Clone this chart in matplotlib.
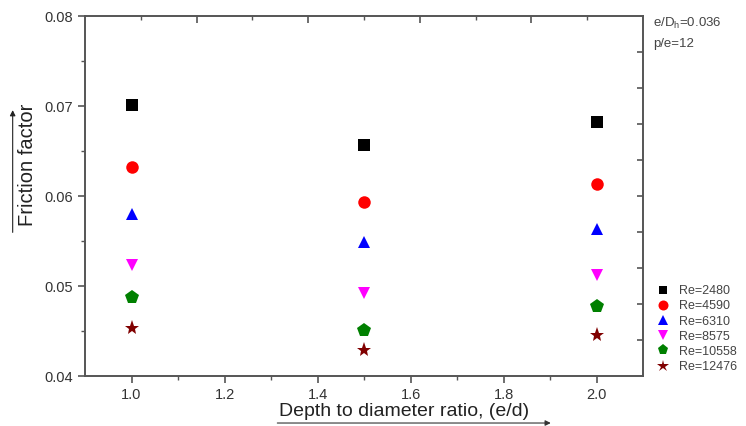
import matplotlib
matplotlib.use("Agg")
import matplotlib.pyplot as plt

plt.rcParams['font.family'] = ['Liberation Sans', 'DejaVu Sans']

# data
ratio = [1.0, 1.5, 2.0]
labels = ['Re=2480', 'Re=4590', 'Re=6310', 'Re=8575', 'Re=10558', 'Re=12476']
f_2480 = [0.0701, 0.0657, 0.0682]
f_4590 = [0.0632, 0.0594, 0.0613]
f_6310 = [0.0580, 0.0549, 0.0563]
f_8575 = [0.0524, 0.0492, 0.0512]
f_10558 = [0.0488, 0.0451, 0.0478]
f_12476 = [0.0453, 0.0429, 0.0446]

series = [f_2480, f_4590, f_6310, f_8575, f_10558, f_12476]
markers = ['s', 'o', '^', 'v', 'p', '*']
colors = ['black', 'red', 'blue', 'magenta', '#008000', '#800000']
sizes = [8, 9, 9, 9, 10, 11]

fig = plt.figure(figsize=(7.46, 4.26), dpi=100)
ax = fig.add_axes([0.114, 0.117, 0.748, 0.845])

for ys, m, c, s, lab in zip(series, markers, colors, sizes, labels):
    ax.plot(ratio, ys, linestyle='none', marker=m, color=c, ms=s,
            markeredgewidth=0, label=lab)

ax.set_xlim(0.9, 2.1)
ax.set_ylim(0.04, 0.08)
ax.set_xticks([1.0, 1.2, 1.4, 1.6, 1.8, 2.0])
ax.set_xticks([1.1, 1.3, 1.5, 1.7, 1.9], minor=True)
ax.set_yticks([0.04, 0.05, 0.06, 0.07, 0.08])
ax.set_yticks([0.045, 0.055, 0.065, 0.075], minor=True)
ax.set_xticklabels(['1.0', '1.2', '1.4', '1.6', '1.8', '2.0'])
ax.set_yticklabels(['0.04', '0.05', '0.06', '0.07', '0.08'])

spine_col = '#555555'
for sp in ax.spines.values():
    sp.set_color(spine_col)
    sp.set_linewidth(1.4)
ax.tick_params(which='major', direction='out', length=5, width=1.2,
               color=spine_col, labelsize=10.5, labelcolor='#333333')
ax.tick_params(which='minor', direction='out', length=3, width=1.0,
               color=spine_col)

# top and right ticks (inward, no labels)
top = ax.secondary_xaxis('top')
top.set_xticks([1.14, 1.38, 1.62, 1.86])
top.set_xticks([1.02, 1.26, 1.50, 1.74, 1.98], minor=True)
top.tick_params(which='major', direction='in', length=5, width=1.2,
                color=spine_col, labeltop=False)
top.tick_params(which='minor', direction='in', length=3, width=1.0,
                color=spine_col)
top.spines['top'].set_visible(False)

right = ax.secondary_yaxis('right')
right.set_yticks([0.044, 0.048, 0.052, 0.056, 0.060, 0.064, 0.068, 0.072, 0.076])
right.tick_params(direction='in', length=4, width=1.2, color=spine_col,
                  labelright=False)
right.spines['right'].set_visible(False)

# axis titles with arrows
fig.text(0.542, 0.033, 'Depth to diameter ratio, (e/d)', ha='center',
         va='center', fontsize=14, color='#222222')
fig.add_artist(matplotlib.patches.FancyArrowPatch(
    (0.368, 0.007), (0.742, 0.007), transform=fig.transFigure,
    arrowstyle='-|>', mutation_scale=8, color='#333333', lw=0.8))

fig.text(0.037, 0.612, 'Friction factor', rotation=90, ha='center',
         va='center', fontsize=14.5, color='#222222')
fig.add_artist(matplotlib.patches.FancyArrowPatch(
    (0.017, 0.448), (0.017, 0.748), transform=fig.transFigure,
    arrowstyle='-|>', mutation_scale=8, color='#222222', lw=0.8))

fig.text(0.876, 0.944, r'e/D$_\mathregular{h}$=0.036', fontsize=9.5,
         color='#444444', va='center')
fig.text(0.876, 0.897, 'p/e=12', fontsize=9.5, color='#444444', va='center')

fig.legend(loc='upper left', bbox_to_anchor=(0.870, 0.345), frameon=False,
           fontsize=9, labelspacing=0.25, handletextpad=0.7,
           handlelength=1.2, borderpad=0, markerscale=0.8,
           labelcolor='#444444')

fig.savefig('out.png', dpi=100)
